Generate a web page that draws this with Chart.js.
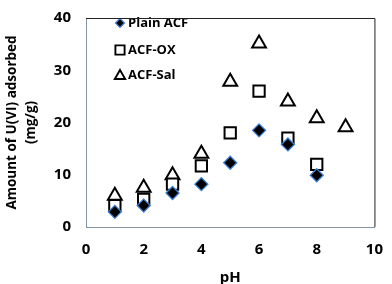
<!DOCTYPE html>
<html><head><meta charset="utf-8">
<script src="https://cdn.jsdelivr.net/npm/chart.js@4"></script>
<style>html,body{margin:0;padding:0;background:#fff}#wrap{width:392px;height:284px}</style>
</head><body><div id="wrap"><canvas id="c" width="392" height="284"></canvas></div>
<script>
const seriesNames = ['Plain ACF', 'ACF-OX', 'ACF-Sal'];
const plainPH = [1, 2, 3, 4, 5, 6, 7, 8];
const plainACF = [2.9, 4.1, 6.5, 8.2, 12.3, 18.5, 15.8, 9.9];
const oxPH = [1, 2, 3, 4, 5, 6, 7, 8];
const acfOX = [4.1, 5.3, 8.2, 11.7, 18.0, 26.0, 17.0, 12.0];
const salPH = [1, 2, 3, 4, 5, 6, 7, 8, 9];
const acfSal = [6.0, 7.5, 9.9, 14.0, 27.8, 35.1, 24.0, 20.8, 19.1];
const xTicks = [0, 2, 4, 6, 8, 10];
const yTicks = [0, 10, 20, 30, 40];

const pts = (xs, ys) => xs.map((x, i) => ({x: x, y: ys[i]}));
const FONT = '"Open Sans", "Liberation Sans", sans-serif';
const AXIS = '#8496a6';

const legendPlugin = {
  id: 'inLegend',
  afterDraw(chart) {
    const ctx = chart.ctx;
    const items = [
      {y: 23, style: 'rectRot', r: 4.5, fill: '#000', stroke: '#3a7fd5', bw: 1.2},
      {y: 50, style: 'rect', r: 6.5, fill: '#fff', stroke: '#000', bw: 1.9},
      {y: 75, style: 'triangle', r: 6, fill: '#fff', stroke: '#000', bw: 1.9}
    ];
    ctx.save();
    items.forEach((it, i) => {
      ctx.fillStyle = it.fill; ctx.strokeStyle = it.stroke; ctx.lineWidth = it.bw;
      Chart.helpers.drawPoint(ctx, {pointStyle: it.style, radius: it.r, borderWidth: it.bw}, 120, it.y + (it.style === 'triangle' ? 1 : 0));
      ctx.fillStyle = '#000';
      ctx.font = 'bold 13px ' + FONT;
      ctx.textBaseline = 'middle';
      ctx.textAlign = 'left';
      ctx.fillText(seriesNames[i], 128, it.y);
    });
    const a = chart.chartArea;
    ctx.strokeStyle = '#222'; ctx.lineWidth = 1;
    ctx.beginPath();
    ctx.moveTo(a.left, a.top + 0.5); ctx.lineTo(a.right + 0.5, a.top + 0.5); ctx.lineTo(a.right + 0.5, a.bottom);
    ctx.stroke();
    ctx.restore();
  }
};

new Chart(document.getElementById('c'), {
  type: 'scatter',
  data: {
    datasets: [
      {label: seriesNames[0], data: pts(plainPH, plainACF), pointStyle: 'rectRot', pointRadius: 6.5,
       backgroundColor: '#000', borderColor: '#3a7fd5', borderWidth: 1.3},
      {label: seriesNames[1], data: pts(oxPH, acfOX), pointStyle: 'rect', pointRadius: 8,
       backgroundColor: '#fff', borderColor: '#000', borderWidth: 2},
      {label: seriesNames[2], data: pts(salPH, acfSal), pointStyle: 'triangle', pointRadius: 8,
       backgroundColor: '#fff', borderColor: '#000', borderWidth: 2}
    ]
  },
  options: {
    responsive: false, animation: false,
    layout: {padding: {left: 0, right: 10, top: 7, bottom: 0}},
    plugins: {legend: {display: false}, tooltip: {enabled: false}},
    scales: {
      x: {
        type: 'linear', min: 0, max: 10,
        afterBuildTicks: s => { s.ticks = xTicks.map(v => ({value: v})); },
        grid: {display: false, drawTicks: true, tickLength: 5, tickColor: AXIS},
        border: {color: AXIS, width: 1},
        ticks: {color: '#000', font: {family: FONT, weight: 'bold', size: 15}, padding: 9, maxRotation: 0},
        title: {display: true, text: 'pH', color: '#000', font: {family: FONT, weight: 'bold', size: 15}, padding: {top: 4, bottom: -3}},
        afterFit: s => { s.height = 57; }
      },
      y: {
        type: 'linear', min: 0, max: 40,
        afterBuildTicks: s => { s.ticks = yTicks.map(v => ({value: v})); },
        grid: {display: false, drawTicks: true, tickLength: 6, tickColor: AXIS},
        border: {color: AXIS, width: 1},
        ticks: {color: '#000', font: {family: FONT, weight: 'bold', size: 15}, padding: 9},
        title: {display: true, text: ['Amount of U(VI) adsorbed', '(mg/g)'], color: '#000',
                font: {family: FONT, weight: 'bold', size: 13.5, lineHeight: 1.4}, padding: {top: 3, bottom: 0}},
        afterFit: s => { s.width = 86; }
      }
    }
  },
  plugins: [legendPlugin]
});
</script></body></html>
